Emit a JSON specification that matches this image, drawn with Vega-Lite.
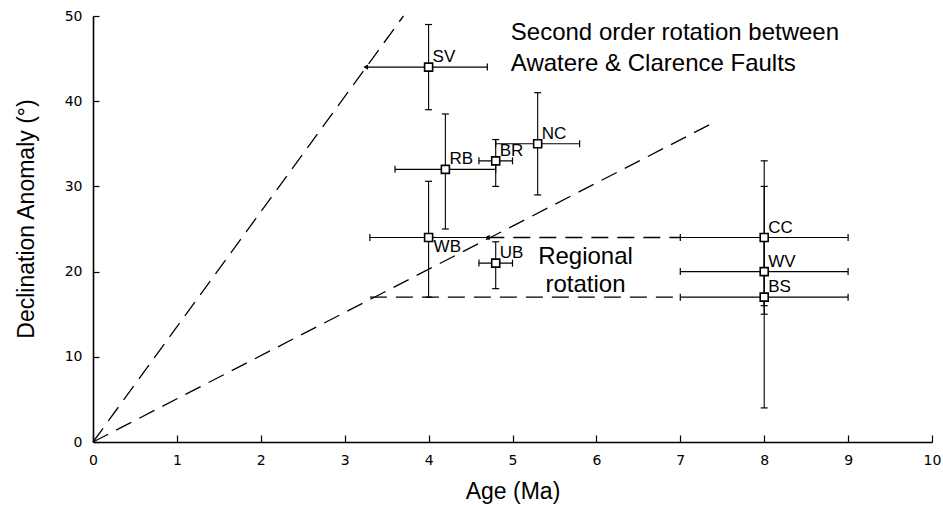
{
  "$schema": "https://vega.github.io/schema/vega-lite/v6.json",
  "width": 839,
  "height": 426,
  "autosize": "none",
  "padding": {"left": 93, "top": 16, "right": 11, "bottom": 63},
  "background": "white",
  "config": {
    "view": {"stroke": null},
    "font": "Liberation Sans",
    "axis": {
      "domainColor": "black",
      "domainWidth": 1.6,
      "tickColor": "black",
      "tickWidth": 1.2,
      "grid": false,
      "labelFlush": false,
      "labelColor": "black",
      "labelFont": "DejaVu Sans",
      "labelFontSize": 14,
      "titleFont": "Liberation Sans",
      "titleFontSize": 23,
      "titleFontWeight": "normal",
      "titleColor": "black"
    }
  },
  "datasets": {
    "sites": [
      {"name": "SV", "x": 4.0, "y": 44, "xlo": 3.25, "xhi": 4.7, "ylo": 39, "yhi": 49},
      {"name": "RB", "x": 4.2, "y": 32, "xlo": 3.6, "xhi": 4.8, "ylo": 25, "yhi": 38.5},
      {"name": "BR", "x": 4.8, "y": 33, "xlo": 4.6, "xhi": 5.0, "ylo": 30, "yhi": 35.5},
      {"name": "NC", "x": 5.3, "y": 35, "xlo": 4.8, "xhi": 5.8, "ylo": 29, "yhi": 41},
      {"name": "WB", "x": 4.0, "y": 24, "xlo": 3.3, "xhi": 4.7, "ylo": 17, "yhi": 30.6},
      {"name": "UB", "x": 4.8, "y": 21, "xlo": 4.6, "xhi": 5.0, "ylo": 18, "yhi": 23.5},
      {"name": "CC", "x": 8.0, "y": 24, "xlo": 7, "xhi": 9, "ylo": 15, "yhi": 33},
      {"name": "WV", "x": 8.0, "y": 20, "xlo": 7, "xhi": 9, "ylo": 16, "yhi": 24},
      {"name": "BS", "x": 8.0, "y": 17, "xlo": 7, "xhi": 9, "ylo": 4, "yhi": 30}
    ],
    "guides": [
      {"seg": "steep", "x": 0, "y": 0},
      {"seg": "steep", "x": 3.7, "y": 50},
      {"seg": "low", "x": 0, "y": 0},
      {"seg": "low", "x": 7.4, "y": 37.5},
      {"seg": "r24", "x": 4.7, "y": 24},
      {"seg": "r24", "x": 7, "y": 24},
      {"seg": "r17", "x": 3.3, "y": 17},
      {"seg": "r17", "x": 7, "y": 17}
    ],
    "arrows": [
      {"x": 3.25, "y": 44},
      {"x": 4.7, "y": 24}
    ],
    "notes": [
      {"text": "Second order rotation between", "x": 4.98, "y": 47.2, "grp": "top"},
      {"text": "Awatere & Clarence Faults", "x": 4.98, "y": 43.6, "grp": "top"},
      {"text": "Regional", "x": 5.87, "y": 20.86, "grp": "mid"},
      {"text": "rotation", "x": 5.87, "y": 17.64, "grp": "mid"}
    ]
  },
  "layer": [
    {
      "data": {"name": "guides"},
      "mark": {"type": "line", "color": "black", "strokeWidth": 1.3, "strokeDash": [17, 9]},
      "encoding": {
        "x": {
          "field": "x", "type": "quantitative",
          "scale": {"domain": [0, 10], "nice": false, "zero": false},
          "title": "Age (Ma)",
          "axis": {
            "values": [0, 1, 2, 3, 4, 5, 6, 7, 8, 9, 10],
            "format": "d",
            "tickSize": -7,
            "labelPadding": 18,
            "labelBaseline": "top",
            "labelFlush": false,
            "titleX": 419.5,
            "titleY": 56,
            "titleBaseline": "alphabetic",
            "titleAlign": "center"
          }
        },
        "y": {
          "field": "y", "type": "quantitative",
          "scale": {"domain": [0, 50], "nice": false, "zero": false},
          "title": "Declination Anomaly (°)",
          "axis": {
            "values": [0, 10, 20, 30, 40, 50],
            "format": "d",
            "tickSize": -6,
            "labelPadding": 17,
            "labelFlush": false,
            "titleX": -60,
            "titleY": 202.5,
            "titleAngle": -90,
            "titleBaseline": "alphabetic",
            "titleAlign": "center"
          }
        },
        "detail": {"field": "seg", "type": "nominal"}
      }
    },
    {
      "data": {"name": "sites"},
      "mark": {"type": "rule", "color": "black", "strokeWidth": 1.1},
      "encoding": {
        "x": {"field": "x", "type": "quantitative", "title": "Age (Ma)"},
        "y": {"field": "ylo", "type": "quantitative", "title": "Declination Anomaly (°)"},
        "y2": {"field": "yhi"}
      }
    },
    {
      "data": {"name": "sites"},
      "mark": {"type": "rule", "color": "black", "strokeWidth": 1.1},
      "encoding": {
        "x": {"field": "xlo", "type": "quantitative", "title": "Age (Ma)"},
        "x2": {"field": "xhi"},
        "y": {"field": "y", "type": "quantitative", "title": "Declination Anomaly (°)"}
      }
    },
    {
      "data": {"name": "sites"},
      "mark": {"type": "tick", "orient": "horizontal", "color": "black", "size": 7, "thickness": 1.2, "opacity": 1},
      "encoding": {
        "x": {"field": "x", "type": "quantitative", "title": "Age (Ma)"},
        "y": {"field": "ylo", "type": "quantitative", "title": "Declination Anomaly (°)"}
      }
    },
    {
      "data": {"name": "sites"},
      "mark": {"type": "tick", "orient": "horizontal", "color": "black", "size": 7, "thickness": 1.2, "opacity": 1},
      "encoding": {
        "x": {"field": "x", "type": "quantitative", "title": "Age (Ma)"},
        "y": {"field": "yhi", "type": "quantitative", "title": "Declination Anomaly (°)"}
      }
    },
    {
      "data": {"name": "sites"},
      "transform": [{"filter": "datum.name != 'SV'"}],
      "mark": {"type": "tick", "orient": "vertical", "color": "black", "size": 7, "thickness": 1.2, "opacity": 1},
      "encoding": {
        "x": {"field": "xlo", "type": "quantitative", "title": "Age (Ma)"},
        "y": {"field": "y", "type": "quantitative", "title": "Declination Anomaly (°)"}
      }
    },
    {
      "data": {"name": "sites"},
      "transform": [{"filter": "datum.name != 'WB'"}],
      "mark": {"type": "tick", "orient": "vertical", "color": "black", "size": 7, "thickness": 1.2, "opacity": 1},
      "encoding": {
        "x": {"field": "xhi", "type": "quantitative", "title": "Age (Ma)"},
        "y": {"field": "y", "type": "quantitative", "title": "Declination Anomaly (°)"}
      }
    },
    {
      "data": {"name": "arrows"},
      "mark": {"type": "point", "shape": "triangle-left", "filled": true, "color": "black", "size": 30, "opacity": 1},
      "encoding": {
        "x": {"field": "x", "type": "quantitative", "title": "Age (Ma)"},
        "y": {"field": "y", "type": "quantitative", "title": "Declination Anomaly (°)"}
      }
    },
    {
      "data": {"name": "sites"},
      "mark": {"type": "point", "shape": "square", "filled": true, "fill": "white", "stroke": "black", "strokeWidth": 1.6, "size": 64, "opacity": 1},
      "encoding": {
        "x": {"field": "x", "type": "quantitative", "title": "Age (Ma)"},
        "y": {"field": "y", "type": "quantitative", "title": "Declination Anomaly (°)"}
      }
    },
    {
      "data": {"name": "sites"},
      "transform": [{"filter": "datum.name != 'WB'"}],
      "mark": {"type": "text", "align": "left", "baseline": "alphabetic", "dx": 4, "dy": -5, "fontSize": 17, "color": "black"},
      "encoding": {
        "x": {"field": "x", "type": "quantitative", "title": "Age (Ma)"},
        "y": {"field": "y", "type": "quantitative", "title": "Declination Anomaly (°)"},
        "text": {"field": "name", "type": "nominal"}
      }
    },
    {
      "data": {"name": "sites"},
      "transform": [{"filter": "datum.name == 'WB'"}],
      "mark": {"type": "text", "align": "left", "baseline": "alphabetic", "dx": 5, "dy": 14, "fontSize": 17, "color": "black"},
      "encoding": {
        "x": {"field": "x", "type": "quantitative", "title": "Age (Ma)"},
        "y": {"field": "y", "type": "quantitative", "title": "Declination Anomaly (°)"},
        "text": {"field": "name", "type": "nominal"}
      }
    },
    {
      "data": {"name": "notes"},
      "transform": [{"filter": "datum.grp == 'top'"}],
      "mark": {"type": "text", "align": "left", "baseline": "alphabetic", "fontSize": 24, "color": "black"},
      "encoding": {
        "x": {"field": "x", "type": "quantitative", "title": "Age (Ma)"},
        "y": {"field": "y", "type": "quantitative", "title": "Declination Anomaly (°)"},
        "text": {"field": "text", "type": "nominal"}
      }
    },
    {
      "data": {"name": "notes"},
      "transform": [{"filter": "datum.grp == 'mid'"}],
      "mark": {"type": "text", "align": "center", "baseline": "alphabetic", "fontSize": 24, "color": "black"},
      "encoding": {
        "x": {"field": "x", "type": "quantitative", "title": "Age (Ma)"},
        "y": {"field": "y", "type": "quantitative", "title": "Declination Anomaly (°)"},
        "text": {"field": "text", "type": "nominal"}
      }
    }
  ]
}
